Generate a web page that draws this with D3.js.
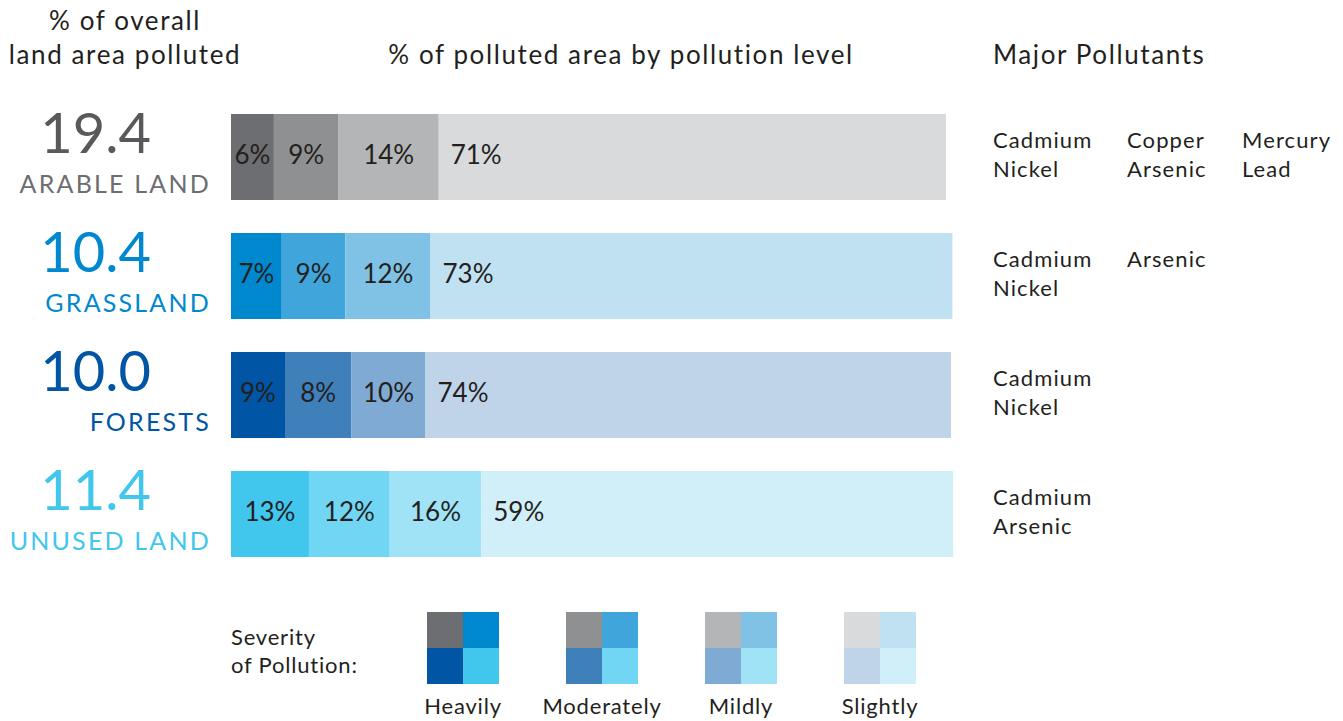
<!DOCTYPE html>
<html lang="en">
<head>
  <meta charset="UTF-8">
  <title>Soil pollution by land type</title>
  <script src="https://d3js.org/d3.v7.min.js"></script>
  <style>
    body {
      margin: 0;
      background: #fff;
    }

    text {
      font-family: Lato, "Open Sans", sans-serif;
      fill: #231f20;
    }

    .head {
      font-size: 26px;
      letter-spacing: 1.6px;
    }

    .big {
      font-size: 56px;
    }

    .land {
      font-size: 25px;
      letter-spacing: 2.2px;
    }

    .pct {
      font-size: 26px;
    }

    .pollutant {
      font-size: 22px;
      letter-spacing: 1.1px;
    }

    .legend-text {
      font-size: 22px;
      letter-spacing: 0.8px;
    }
  </style>
</head>
<body>

<svg width="1343" height="721"></svg>

<script>
  // Land types and their share of area polluted
  const landTypes = ["ARABLE LAND", "GRASSLAND", "FORESTS", "UNUSED LAND"];
  const overallPolluted = [19.4, 10.4, 10.0, 11.4];

  // Pollution levels
  const levels = ["Heavily", "Moderately", "Mildly", "Slightly"];

  // printed labels on the bar segments
  const shareLabels = [
    [6, 9, 14, 71],
    [7, 9, 12, 73],
    [9, 8, 10, 74],
    [13, 12, 16, 59]
  ];

  // segment widths as drawn in the source (they don't always match the labels)
  const barShares = [
    [6.0, 9.05, 14.0, 70.95],
    [7.1, 8.9, 11.9, 73.0],
    [7.55, 9.3, 10.35, 73.5],
    [10.9, 11.3, 12.8, 66.0]
  ];

  const pollutants = [
    ["Cadmium", "Nickel", "Copper", "Arsenic", "Mercury", "Lead"],
    ["Cadmium", "Nickel", "Arsenic"],
    ["Cadmium", "Nickel"],
    ["Cadmium", "Arsenic"]
  ];

  // one colour ramp per land type, heavy -> slight
  const palette = [
    ["#6d6e71", "#8f9092", "#b4b5b7", "#d9dadb"],
    ["#0088cf", "#40a5da", "#80c2e5", "#c0e1f2"],
    ["#0055a4", "#3f80bb", "#7faad3", "#bfd4e9"],
    ["#41c6ee", "#71d6f3", "#a0e3f6", "#d0eff9"]
  ];
  const numberColors = ["#58595b", "#0088cf", "#0055a4", "#41c6ee"];
  const labelColors = ["#6d6e71", "#0088cf", "#0055a4", "#41c6ee"];

  const svg = d3.select("svg");

  const x = d3.scaleLinear().domain([0, 100]).range([231, 946]);
  const y = d3.scaleBand().domain(landTypes).range([114, 557]).paddingInner(0.2773);

  // Headers
  svg.append("text").attr("class", "head").attr("x", 125).attr("y", 30)
    .attr("text-anchor", "middle").text("% of overall");
  svg.append("text").attr("class", "head").attr("x", 125).attr("y", 64)
    .attr("text-anchor", "middle").text("land area polluted");
  svg.append("text").attr("class", "head").attr("x", 621).attr("y", 64)
    .attr("text-anchor", "middle").text("% of polluted area by pollution level");
  svg.append("text").attr("class", "head").attr("x", 993).attr("y", 64)
    .text("Major Pollutants");

  const rows = svg.selectAll(".row")
    .data(landTypes)
    .enter().append("g")
    .attr("class", "row")
    .attr("transform", d => `translate(0,${y(d)})`);

  // big numbers + land type names
  rows.append("text")
    .attr("class", "big")
    .attr("x", 151)
    .attr("y", 39)
    .attr("text-anchor", "end")
    .style("fill", (d, i) => numberColors[i])
    .text((d, i) => overallPolluted[i].toFixed(1));

  rows.append("text")
    .attr("class", "land")
    .attr("x", 211)
    .attr("y", 79)
    .attr("text-anchor", "end")
    .style("fill", (d, i) => labelColors[i])
    .text(d => d);

  const colX = [993, 1127, 1242];

  // stacked segments
  rows.each(function(d, i) {
    const g = d3.select(this);
    let acc = 0;
    const segs = barShares[i].map((v, j) => {
      const s = { x0: acc, x1: acc + v, label: shareLabels[i][j], color: palette[i][j], j };
      acc += v;
      return s;
    });

    g.selectAll("rect")
      .data(segs)
      .enter().append("rect")
      .attr("x", s => x(s.x0))
      .attr("y", 0)
      .attr("width", s => x(s.x1) - x(s.x0))
      .attr("height", y.bandwidth())
      .attr("fill", s => s.color);

    g.selectAll(".pct")
      .data(segs)
      .enter().append("text")
      .attr("class", "pct")
      .attr("x", s => s.j < 3 ? (x(s.x0) + x(s.x1)) / 2 : x(s.x0) + 12)
      .attr("y", 50)
      .attr("text-anchor", s => s.j < 3 ? "middle" : "start")
      .text(s => s.label + "%");

    // pollutants, two per column
    g.selectAll(".pollutant")
      .data(pollutants[i])
      .enter().append("text")
      .attr("class", "pollutant")
      .attr("x", (p, k) => colX[Math.floor(k / 2)])
      .attr("y", (p, k) => 34 + (k % 2) * 29)
      .text(p => p);
  });

  // Legend
  svg.append("text").attr("class", "legend-text").attr("x", 231).attr("y", 645).text("Severity");
  svg.append("text").attr("class", "legend-text").attr("x", 231).attr("y", 673).text("of Pollution:");

  const lx = d3.scaleBand().domain(levels).range([427, 916]).paddingInner(0.482);
  const cell = lx.bandwidth() / 2;

  const lg = svg.selectAll(".lg")
    .data(levels)
    .enter().append("g")
    .attr("class", "lg")
    .attr("transform", d => `translate(${lx(d)},612)`);

  lg.each(function(d, j) {
    const g = d3.select(this);
    g.selectAll("rect")
      .data(landTypes)
      .enter().append("rect")
      .attr("x", (t, i) => (i % 2) * cell)
      .attr("y", (t, i) => Math.floor(i / 2) * cell)
      .attr("width", cell)
      .attr("height", cell)
      .attr("fill", (t, i) => palette[i][j]);
  });

  lg.append("text")
    .attr("class", "legend-text")
    .attr("x", lx.bandwidth() / 2)
    .attr("y", 102)
    .attr("text-anchor", "middle")
    .text(d => d);
</script>

</body>
</html>
